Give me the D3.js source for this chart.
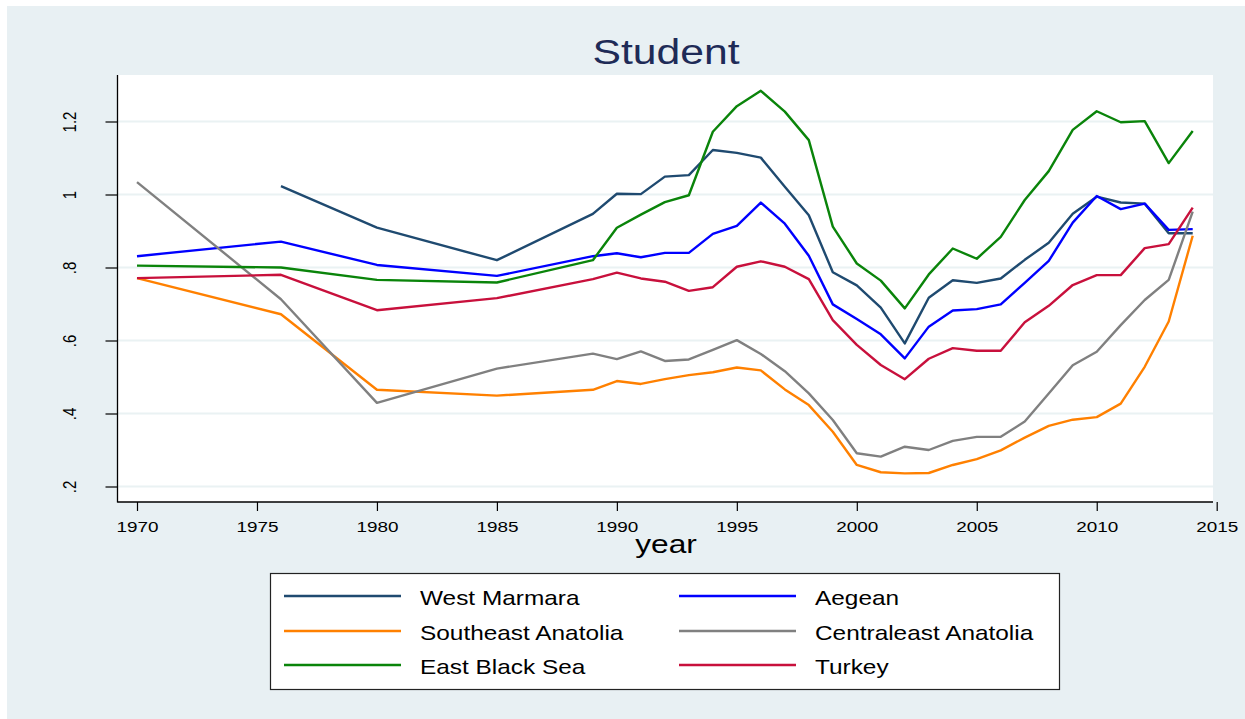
<!DOCTYPE html>
<html>
<head>
<meta charset="utf-8">
<script src="https://cdn.jsdelivr.net/npm/d3@7"></script>
<style>
  body { margin:0; background:#fff; }
  text { font-family: "Liberation Sans", Arial, sans-serif; }
</style>
</head>
<body>
<svg id="chart" width="1245" height="719"></svg>
<script>
const years = [1970, 1976, 1980, 1985, 1989, 1990, 1991, 1992, 1993, 1994, 1995, 1996, 1997, 1998,
  1999, 2000, 2001, 2002, 2003, 2004, 2005, 2006, 2007, 2008, 2009, 2010, 2011, 2012, 2013, 2014];

const westMarmara = [null, 1.023, 0.909, 0.820, 0.947, 1.002, 1.001, 1.049, 1.053, 1.122, 1.114, 1.101, 1.021, 0.943,
  0.787, 0.751, 0.690, 0.592, 0.717, 0.765, 0.758, 0.770, 0.821, 0.868, 0.947, 0.994, 0.978, 0.975, 0.894, 0.894];
const aegean = [0.831, 0.871, 0.807, 0.777, 0.831, 0.839, 0.828, 0.840, 0.840, 0.892, 0.914, 0.978, 0.920, 0.832,
  0.699, 0.659, 0.617, 0.551, 0.638, 0.682, 0.686, 0.699, 0.758, 0.818, 0.923, 0.996, 0.960, 0.975, 0.903, 0.905];
const southeastAnatolia = [0.771, 0.672, 0.465, 0.449, 0.465, 0.489, 0.481, 0.494, 0.505, 0.513, 0.526, 0.518, 0.466, 0.423,
  0.350, 0.259, 0.239, 0.236, 0.237, 0.259, 0.275, 0.299, 0.334, 0.366, 0.383, 0.390, 0.427, 0.528, 0.652, 0.887];
const centraleastAnatolia = [1.034, 0.713, 0.429, 0.523, 0.564, 0.549, 0.570, 0.544, 0.548, 0.574, 0.601, 0.563, 0.516, 0.455,
  0.382, 0.291, 0.282, 0.309, 0.300, 0.325, 0.336, 0.336, 0.378, 0.455, 0.532, 0.569, 0.642, 0.711, 0.766, 0.953];
const eastBlackSea = [0.805, 0.800, 0.766, 0.759, 0.820, 0.909, 0.945, 0.979, 0.998, 1.172, 1.242, 1.284, 1.227, 1.149,
  0.912, 0.811, 0.764, 0.688, 0.781, 0.852, 0.824, 0.884, 0.985, 1.064, 1.177, 1.228, 1.198, 1.201, 1.086, 1.174];
const turkey = [0.771, 0.780, 0.683, 0.716, 0.768, 0.786, 0.770, 0.761, 0.736, 0.746, 0.802, 0.817, 0.802, 0.768,
  0.656, 0.588, 0.533, 0.494, 0.550, 0.579, 0.572, 0.572, 0.650, 0.695, 0.752, 0.779, 0.779, 0.853, 0.864, 0.964];

const seriesNames = ['West Marmara', 'Aegean', 'Southeast Anatolia', 'Centraleast Anatolia', 'East Black Sea', 'Turkey'];
const seriesValues = [westMarmara, aegean, southeastAnatolia, centraleastAnatolia, eastBlackSea, turkey];
const seriesColors = ['#1f4a70', '#0000ff', '#ff8000', '#808080', '#0a840a', '#c8103c'];

const xTicks = [1970, 1975, 1980, 1985, 1990, 1995, 2000, 2005, 2010, 2015];
const yTicks = [0.2, 0.4, 0.6, 0.8, 1, 1.2];
const yTickLabels = ['.2', '.4', '.6', '.8', '1', '1.2'];

function chart(){
    const svg = d3.select('#chart');
    const width = +svg.attr('width');
    const height = +svg.attr('height');
    const stretch = 1.22; // text in the picture is wider than normal

    const plot = { left:117.5, right:1213, top:75, bottom:502 };

    const xscale = d3.scaleLinear().domain([1970, 2015]).range([137, 1216.7]);
    const yscale = d3.scaleLinear().domain([0.2, 1.2]).range([486.5, 121.5]);

    // backgrounds
    svg.append('rect').attr('x',7).attr('y',6).attr('width',width-7).attr('height',height-6)
        .attr('fill','#e8f0f3');
    svg.append('rect').attr('x',plot.left).attr('y',plot.top)
        .attr('width',plot.right-plot.left).attr('height',plot.bottom-plot.top)
        .attr('fill','#fff');

    // grid
    svg.append('g').selectAll('line').data(yTicks).enter().append('line')
        .attr('x1',plot.left).attr('x2',plot.right)
        .attr('y1',d => yscale(d)).attr('y2',d => yscale(d))
        .attr('stroke','#eaf2f3').attr('stroke-width',2.2);

    // axes
    const yAxis = svg.append('g')
        .attr('transform',`translate(${plot.left},0)`)
        .call(d3.axisLeft(yscale).tickValues(yTicks).tickSize(12)
            .tickFormat((d,i) => yTickLabels[i]));
    yAxis.select('.domain').remove();
    yAxis.selectAll('line').attr('stroke','#000').attr('stroke-width',1.2);
    yAxis.selectAll('text')
        .attr('x',null).attr('dy',null)
        .attr('transform',`translate(-41.5,0) scale(${stretch},1) rotate(-90)`)
        .attr('text-anchor','middle')
        .attr('font-size',15).attr('fill','#000')
        .style('font-family','"Liberation Sans", Arial, sans-serif');

    const xAxis = svg.append('g')
        .attr('transform',`translate(0,${plot.bottom})`)
        .call(d3.axisBottom(xscale).tickValues(xTicks).tickSize(9).tickFormat(d3.format('d')));
    xAxis.select('.domain').remove();
    xAxis.selectAll('line').attr('stroke','#000').attr('stroke-width',1.2);
    xAxis.selectAll('text')
        .attr('y',30).attr('dy',null)
        .attr('transform',`scale(${stretch},1)`)
        .attr('font-size',15.5).attr('fill','#000')
        .style('font-family','"Liberation Sans", Arial, sans-serif');

    svg.append('line').attr('x1',plot.left).attr('x2',plot.left)
        .attr('y1',plot.top).attr('y2',plot.bottom + 0.6)
        .attr('stroke','#000').attr('stroke-width',1.3);
    svg.append('line').attr('x1',plot.left).attr('x2',plot.right)
        .attr('y1',plot.bottom).attr('y2',plot.bottom)
        .attr('stroke','#000').attr('stroke-width',1.3);

    // lines
    const line = d3.line()
        .defined(d => d.v !== null)
        .x(d => xscale(d.year))
        .y(d => yscale(d.v));

    svg.append('g').selectAll('path')
        .data(seriesValues.map((vals, i) => ({ i, pts: vals.map((v, j) => ({ year: years[j], v })) })))
        .enter().append('path')
            .attr('d', d => line(d.pts))
            .attr('fill','none')
            .attr('stroke', d => seriesColors[d.i])
            .attr('stroke-width',2.4)
            .attr('stroke-linejoin','round');

    // title + x label
    svg.append('text')
        .attr('transform',`translate(666,64) scale(${stretch},1)`)
        .attr('text-anchor','middle')
        .attr('font-size',35).attr('fill','#1e2b57')
        .text('Student');
    svg.append('text')
        .attr('transform',`translate(666,553) scale(${stretch},1)`)
        .attr('text-anchor','middle')
        .attr('font-size',26).attr('fill','#000')
        .text('year');

    // legend
    const legend = svg.append('g');
    legend.append('rect').attr('x',270.5).attr('y',573.5).attr('width',789).attr('height',116)
        .attr('fill','#fff').attr('stroke','#222').attr('stroke-width',1.2);
    const colX = [284, 679];
    const rowY = [596, 631, 665];
    const item = legend.selectAll('g.item').data(seriesNames).enter().append('g')
        .attr('class','item')
        .attr('transform',(d,i) => `translate(${colX[i % 2]},${rowY[Math.floor(i / 2)]})`);
    item.append('line').attr('x1',0).attr('x2',117).attr('y1',0).attr('y2',0)
        .attr('stroke',(d,i) => seriesColors[i]).attr('stroke-width',2.6);
    item.append('text')
        .attr('transform',`translate(136,8.5) scale(${stretch},1)`)
        .attr('font-size',20).attr('fill','#000')
        .text(d => d);
}
chart();
</script>
</body>
</html>
